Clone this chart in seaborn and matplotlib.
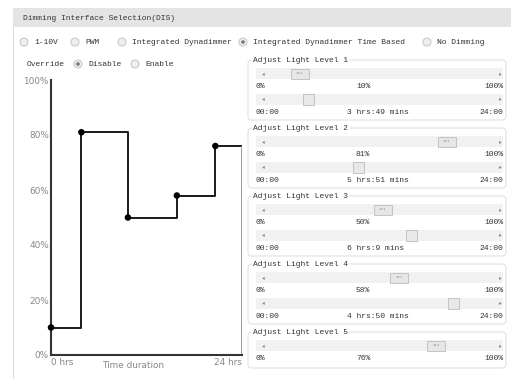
import numpy as np
import pandas as pd
import matplotlib
matplotlib.use("Agg")
import matplotlib.pyplot as plt
import seaborn as sns
from matplotlib.patches import Rectangle, Circle, FancyBboxPatch

levels = [10, 81, 50, 58, 76]
dur_hrs = [3, 5, 6, 4]
dur_mins = [49, 51, 9, 50]
modes = ['1-10V', 'PWM', 'Integrated Dynadimmer', 'Integrated Dynadimmer Time Based', 'No Dimming']
mode_selected = 3
y_ticks = [0, 20, 40, 60, 80, 100]
x_tick_labels = ['0 hrs', '24 hrs']
total_hrs = 24

# step start times (hours)
starts = np.concatenate([[0], np.cumsum(np.array(dur_hrs) + np.array(dur_mins) / 60)])
steps = pd.DataFrame({'hrs': list(starts) + [total_hrs], 'level': levels + [levels[-1]]})
points = steps.iloc[:-1]

sns.set_style('white')
plt.rcParams['font.family'] = ['DejaVu Sans']
ui_font = ['Liberation Mono', 'DejaVu Sans']
ui_col = '#333333'

fig = plt.figure(figsize=(5.11, 3.79), dpi=100)

# background layer in pixel coordinates for the form controls
ui = fig.add_axes([0, 0, 1, 1])
ui.set_xlim(0, 511)
ui.set_ylim(379, 0)
ui.axis('off')

def txt(x, y, s, ha='left', size=5.8, color=ui_col, **kw):
    ui.text(x, y, s, ha=ha, va='center', fontsize=size, color=color, family=ui_font, **kw)

def radio(x, y, on=False):
    ui.add_patch(Circle((x, y), 4, fc='#eeeeee', ec='#c4c4c4', lw=0.7))
    if on:
        ui.add_patch(Circle((x, y), 1.8, fc='#777777', ec='none'))

# outer panel and header
ui.add_patch(Rectangle((13, 8), 510, 380, fc='white', ec='#dcdcdc', lw=0.8))
ui.add_patch(Rectangle((13, 8), 510, 19, fc='#e4e4e4', ec='none'))
txt(23, 18, 'Dimming Interface Selection(DIS)')

mode_x = [24, 75, 122, 243, 427]
for i, m in enumerate(modes):
    radio(mode_x[i], 42, i == mode_selected)
    txt(mode_x[i] + 10, 42, m)

txt(27, 64, 'Override')
radio(78, 64, True)
txt(88, 64, 'Disable')
radio(135, 64, False)
txt(145, 64, 'Enable')

# slider panels
def thumb_left(frac):
    return 270 + frac * 207

for i, lv in enumerate(levels):
    top = 60 + 68 * i
    has_time = i < len(dur_hrs)
    h = 60 if has_time else 36
    ui.add_patch(FancyBboxPatch((248, top), 258, h, boxstyle='round,pad=0,rounding_size=4',
                                fc='white', ec='#e2e2e2', lw=0.8))
    txt(253, top, f'Adjust Light Level {i + 1}', bbox=dict(fc='white', ec='none', pad=0.5))
    rows = [(top + 13.5, 'level')]
    if has_time:
        rows.append((top + 39, 'time'))
    for yc, kind in rows:
        ui.add_patch(Rectangle((256, yc - 5.5), 247, 11, fc='#f1f1f1', ec='none'))
        txt(262, yc, '\u25c2', size=4, color='#888888')
        txt(499, yc, '\u25b8', size=4, color='#888888')
        if kind == 'level':
            xl = thumb_left(lv / 100)
            ui.add_patch(Rectangle((xl, yc - 5), 18, 10, fc='#e6e6e6', ec='#bdbdbd', lw=0.6))
            txt(xl + 9, yc, 'III', ha='center', size=3, color='#999999')
            txt(255, yc + 12.5, '0%')
            txt(356, yc + 12.5, f'{lv}%')
            txt(503, yc + 12.5, '100%', ha='right')
        else:
            xl = thumb_left(starts[i + 1] / total_hrs)
            ui.add_patch(Rectangle((xl, yc - 5.5), 11, 11, fc='#e8e8e8', ec='#bdbdbd', lw=0.6))
            txt(255, yc + 13, '00:00')
            txt(347, yc + 13, f'{dur_hrs[i]} hrs:{dur_mins[i]} mins')
            txt(503, yc + 13, '24:00', ha='right')

# step chart
ax = fig.add_axes([51 / 511, 24 / 379, 191 / 511, 275 / 379])
ax.patch.set_alpha(0)
sns.lineplot(data=steps, x='hrs', y='level', drawstyle='steps-post', color='#1a1a1a',
             lw=1.4, ax=ax, sort=False)
sns.scatterplot(data=points, x='hrs', y='level', color='black', s=22, ax=ax,
                edgecolor='none', zorder=5, clip_on=False)
# closing edge at the end of the day
ax.vlines(total_hrs, 0, levels[-1], color='#8a8a8a', lw=1.2)
ax.set_xlim(0, total_hrs)
ax.set_ylim(0, 100)
ax.set_yticks(y_ticks)
ax.set_yticklabels([f'{v}%' for v in y_ticks])
ax.set_xticks([0, total_hrs])
ax.set_xticklabels(x_tick_labels)
xt = ax.get_xticklabels()
xt[0].set_ha('left')
xt[1].set_ha('right')
ax.tick_params(length=0, labelsize=6.4, labelcolor='#888888', pad=2)
ax.tick_params(axis='y', pad=1.5)
ax.set_xlabel('')
ax.set_ylabel('')
ax.text(0.43, -0.022, 'Time duration', transform=ax.transAxes, ha='center', va='top',
        fontsize=6.4, color='#888888')
for s in ['left', 'bottom']:
    ax.spines[s].set_color('#333333')
    ax.spines[s].set_linewidth(1.5)
ax.spines['right'].set_visible(False)
ax.spines['top'].set_visible(False)

fig.savefig('out.png', dpi=100)
